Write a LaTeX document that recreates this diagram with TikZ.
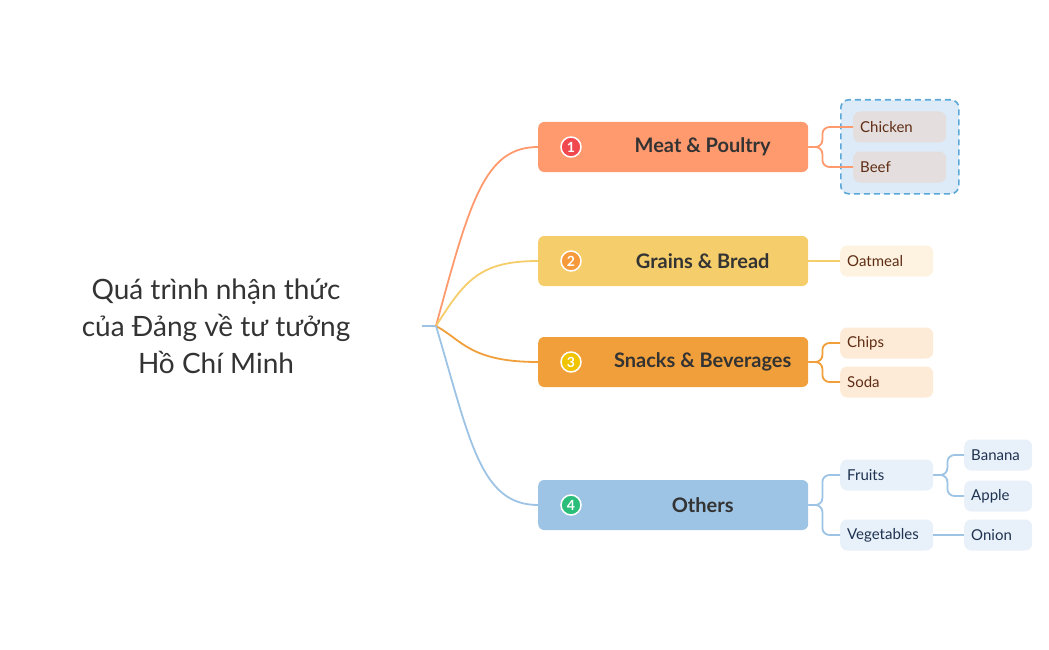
\documentclass[tikz,border=0pt]{standalone}
\usepackage{fontspec}
\setmainfont{Lato}
\begin{document}
\begin{tikzpicture}[x=1pt,y=-1pt,
 branch/.style={rounded corners=6pt,minimum width=270pt,minimum height=50pt,anchor=west,font=\fontsize{20}{20}\selectfont\bfseries,text=black!80,inner sep=0pt},
 leaf/.style={rounded corners=7pt,minimum width=93pt,minimum height=31pt,anchor=west,font=\fontsize{15}{15}\selectfont,align=left,text width=79pt,inner sep=7pt},
 small/.style={leaf,minimum width=66pt,text width=54pt},
 num/.style={circle,draw=white,line width=1.5pt,text=white,minimum size=20pt,inner sep=0pt,font=\fontsize{14}{14}\selectfont\bfseries},
 con/.style={line width=1.8pt,rounded corners=7pt}]
\definecolor{cM}{HTML}{FF9A6E}\definecolor{cG}{HTML}{F5CD6B}
\definecolor{cS}{HTML}{F09F3A}\definecolor{cO}{HTML}{9DC3E5}
\useasboundingbox (0,0) rectangle (1049,650);
\node[align=center,font=\fontsize{28}{37}\selectfont,text=black!80] (title) at (216,326) {Quá trình nhận thức\\của Đảng về tư tưởng\\Hồ Chí Minh};
\coordinate (r0) at (422,326); \coordinate (root) at (436,326);
\draw[cO,line width=1.8pt] (r0) -- (root);
% group box
\node[draw={rgb,255:red,91;green,167;blue,216},fill={rgb,255:red,220;green,235;blue,247},dashed,line width=1.6pt,dash pattern=on 6pt off 4pt,rounded corners=8pt,minimum width=118pt,minimum height=94pt,anchor=north west] (grp) at (840,99) {};
\node[branch,fill=cM] (m) at (538,147) {\hspace{59pt}Meat \& Poultry\hfill};
\node[branch,fill=cG] (g) at (538,261) {\hspace{59pt}Grains \& Bread\hfill};
\node[branch,fill=cS] (s) at (538,362) {\hspace{59pt}Snacks \& Beverages\hfill};
\node[branch,fill=cO] (o) at (538,505) {\hspace{59pt}Others\hfill};
\node[num,fill={rgb,255:red,240;green,72;blue,78}] (n1) at (571,147) {1};
\node[num,fill={rgb,255:red,247;green,154;blue,59}] (n2) at (571,261) {2};
\node[num,fill={rgb,255:red,240;green,196;blue,0}] (n3) at (571,362) {3};
\node[num,fill={rgb,255:red,43;green,190;blue,122}] (n4) at (571,505) {4};
\draw[cM,line width=1.8pt] (root) .. controls (470,200) and (485,147) .. (m.west);
\draw[cG,line width=1.8pt] (root) .. controls (465,280) and (480,261) .. (g.west);
\draw[cS,line width=1.8pt] (root) .. controls (462,340) and (470,362) .. (s.west);
\draw[cO,line width=1.8pt] (root) .. controls (470,440) and (480,505) .. (o.west);
\begin{scope}[text={rgb,255:red,95;green,45;blue,20}]
\node[leaf,fill={rgb,255:red,229;green,222;blue,222},minimum width=93pt,text width=79pt] (ch) at (853,127) {Chicken};
\node[leaf,fill={rgb,255:red,229;green,222;blue,222}] (be) at (853,167) {Beef};
\node[leaf,fill={rgb,255:red,253;green,243;blue,224}] (oa) at (840,261) {Oatmeal};
\node[leaf,fill={rgb,255:red,253;green,235;blue,216}] (cp) at (840,343) {Chips};
\node[leaf,fill={rgb,255:red,253;green,235;blue,216}] (so) at (840,382) {Soda};
\end{scope}
\begin{scope}[text={rgb,255:red,30;green,50;blue,80}]
\node[leaf,fill={rgb,255:red,232;green,241;blue,250}] (fr) at (840,475) {Fruits};
\node[leaf,fill={rgb,255:red,232;green,241;blue,250}] (ve) at (840,535) {Vegetables};
\node[small,fill={rgb,255:red,232;green,241;blue,250}] (ba) at (964,455) {Banana};
\node[small,fill={rgb,255:red,232;green,241;blue,250}] (ap) at (964,496) {Apple};
\node[small,fill={rgb,255:red,232;green,241;blue,250}] (on) at (964,535) {Onion};
\end{scope}
\draw[con,cM] (m.east) -- ++(14,0) |- (ch.west);
\draw[con,cM] (m.east) -- ++(14,0) |- (be.west);
\draw[con,cG] (g.east) -- (oa.west);
\draw[con,cS] (s.east) -- ++(14,0) |- (cp.west);
\draw[con,cS] (s.east) -- ++(14,0) |- (so.west);
\draw[con,cO] (o.east) -- ++(14,0) |- (fr.west);
\draw[con,cO] (o.east) -- ++(14,0) |- (ve.west);
\draw[con,cO] (fr.east) -- ++(14,0) |- (ba.west);
\draw[con,cO] (fr.east) -- ++(14,0) |- (ap.west);
\draw[con,cO] (ve.east) -- (on.west);
\end{tikzpicture}
\end{document}
